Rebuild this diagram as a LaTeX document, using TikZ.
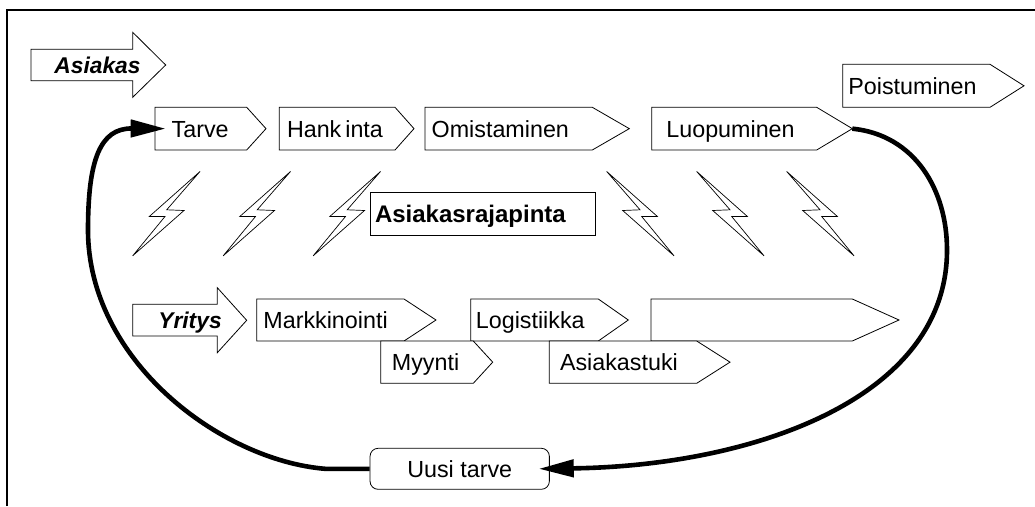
\documentclass[tikz,border=0pt]{standalone}
\usepackage{fontspec}
\setmainfont{Liberation Sans}
\usetikzlibrary{arrows.meta}

% pentagon tag: name, left, top, notch x, tip x, bottom, text offset, text
\newcommand\tagbox[8]{%
  \draw[tagline] (#2,#3) -- (#4,#3) -- (#5,{(#3+#6)/2}) -- (#4,#6) -- (#2,#6) -- cycle;
  \coordinate (#1-west) at (#2,{(#3+#6)/2});
  \coordinate (#1-tip) at (#5,{(#3+#6)/2});
  \node[tagtext] (#1) at ({#2+#7},{(#3+#6)/2+8.7}) {#8};}

% lightning bolt: top x, top y, direction (1 leans left, -1 leans right)
\newcommand\bolt[3]{%
  \draw[boltline] (#1,#2) -- ({#1-(#3)*33.3},{#2+38.3}) -- ({#1-(#3)*16},{#2+39})
    -- ({#1-(#3)*67.3},{#2+84.3}) -- ({#1-(#3)*35},{#2+45}) -- ({#1-(#3)*50.7},{#2+45}) -- cycle;}

\begin{document}
\begin{tikzpicture}[x=1pt,y=-1pt,
  tagline/.style={draw=black,line width=0.8pt,fill=white,line join=miter},
  tagtext/.style={inner sep=0pt,anchor=base west,font=\fontsize{23.3}{26}\selectfont},
  bigarrow/.style={draw=black,line width=0.8pt,fill=white},
  headtext/.style={inner sep=0pt,anchor=base,font=\fontsize{22.8}{26}\selectfont\bfseries\itshape},
  boltline/.style={draw=black,line width=0.7pt,fill=white,line join=miter},
  plainbox/.style={draw=black,line width=0.8pt,fill=white,text height=16.5pt,text depth=0pt},
  cycle arrow/.style={line width=4.6pt,-{Triangle[length=35pt,width=17pt]}},
  frame/.style={line width=2pt}]
\useasboundingbox (0,0) rectangle (1035,506);

% outer frame
\draw[frame] (7,506) -- (7,10) -- (1035,10);

% customer side
\draw[bigarrow] (31,49.3) -- (132.7,49.3) -- (132.7,32.3) -- (165.7,65) -- (132.7,97.3) -- (132.7,80.7) -- (31,80.7) -- cycle;
\node[headtext] (asiakas) at (97.5,73) {Asiakas};

\tagbox{tarve}{155}{107.3}{246.7}{266}{150}{16.5}{Tarve}
\tagbox{hankinta}{279.3}{107.3}{395}{414}{150}{7.5}{Hank\kern4pt inta}
\tagbox{omistaminen}{425}{107.3}{592.3}{629.3}{150}{6.5}{Omistaminen}
\tagbox{luopuminen}{651.7}{107.3}{816.7}{852.3}{150}{14.5}{Luopuminen}
\tagbox{poistuminen}{842.7}{64.3}{990}{1024}{107.3}{5.5}{Poistuminen}

% interface
\bolt{200}{171.5}{1}
\bolt{290.5}{171.5}{1}
\bolt{380.5}{171.5}{1}
\bolt{606.7}{171.5}{-1}
\bolt{696.7}{171.5}{-1}
\bolt{786.7}{171.5}{-1}
\node[plainbox,minimum width=225pt,minimum height=42.3pt,text width=215pt,inner xsep=5pt,align=left,
  font=\fontsize{24}{26}\selectfont\bfseries] (rajapinta) at (482.5,213.9) {Asiakasrajapinta};

% company side
\draw[bigarrow] (132.7,304.3) -- (217.3,304.3) -- (217.3,287.7) -- (246.7,320.3) -- (217.3,352.7) -- (217.3,336) -- (132.7,336) -- cycle;
\node[headtext] (yritys) at (190,328) {Yritys};

\tagbox{markkinointi}{256.7}{299}{404}{436}{341}{6.5}{Markkinointi}
\tagbox{logistiikka}{470.7}{299}{598.3}{628.3}{341}{5}{Logistiikka}
\draw[tagline] (651,299) -- (852.3,299) -- (899,320) -- (852.3,341) -- (651,341) -- cycle;
\tagbox{myynti}{380.7}{341}{473.3}{492.7}{383.3}{11}{Myynti}
\tagbox{asiakastuki}{549.3}{341}{696.7}{730}{383.3}{10.5}{Asiakastuki}

% new need and the loop
\node[plainbox,rounded corners=8pt,minimum width=179.3pt,minimum height=41pt,
  font=\fontsize{23.3}{26}\selectfont] (uusi) at (459.7,468.8) {Uusi tarve};

\draw[cycle arrow] (luopuminen-tip) .. controls (915,135) and (947,190) .. (947,250)
  .. controls (947,400) and (750,466) .. ([xshift=-11pt]uusi.east);
\draw[cycle arrow] (uusi.west) -- (325,468.8) .. controls (220,460) and (88,360) .. (88,230)
  .. controls (88,160) and (100,128.3) .. ([xshift=10.7pt]tarve-west);
\end{tikzpicture}
\end{document}
